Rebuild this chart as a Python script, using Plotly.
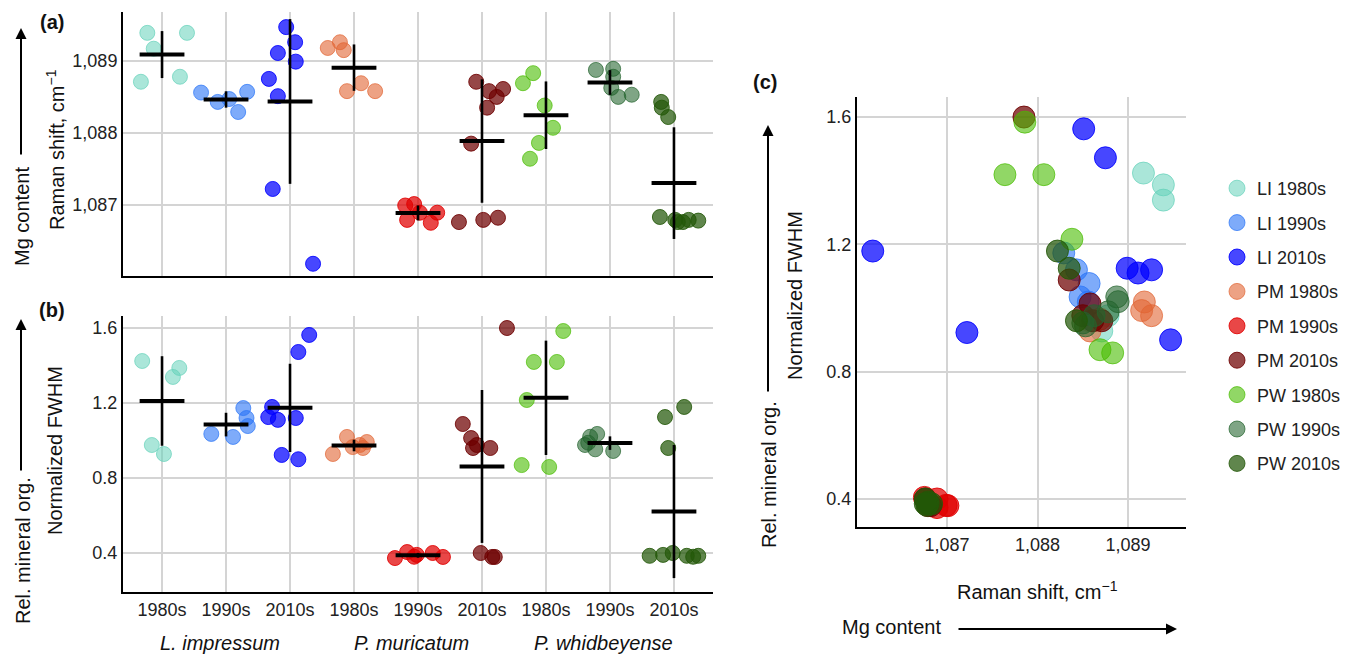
import numpy as np
import plotly.graph_objects as go

W, H = 1359, 656

# ---------------- data ----------------
groups = ["LI 1980s", "LI 1990s", "LI 2010s", "PM 1980s", "PM 1990s", "PM 2010s",
          "PW 1980s", "PW 1990s", "PW 2010s"]
decades = ["1980s", "1990s", "2010s"] * 3
species = ["L. impressum", "P. muricatum", "P. whidbeyense"]

raman_li80 = [1089.39, 1089.17, 1089.39, 1088.78, 1088.71]
fwhm_li80 = [1.387, 1.424, 1.339, 0.976, 0.928]
raman_li90 = [1088.56, 1088.43, 1088.47, 1088.29, 1088.57]
fwhm_li90 = [1.019, 1.12, 1.035, 1.173, 1.077]
raman_li10 = [1089.47, 1089.26, 1089.11, 1088.99, 1088.75, 1088.51, 1087.22, 1086.18]
fwhm_li10 = [0.90, 1.12, 1.11, 1.125, 1.472, 1.563, 0.923, 1.179]
raman_pm80 = [1089.18, 1089.26, 1089.15, 1088.69, 1088.58, 1088.58]
fwhm_pm80 = [1.019, 0.976, 0.992, 0.965, 0.96, 0.928]
raman_pm90 = [1086.99, 1087.01, 1086.79, 1086.89, 1086.75, 1086.89]
fwhm_pm90 = [0.38, 0.379, 0.39, 0.40, 0.405, 0.373]
raman_pm10 = [1088.71, 1088.58, 1088.61, 1088.50, 1088.35, 1087.85, 1086.76, 1086.79, 1086.82]
fwhm_pm10 = [0.96, 1.013, 0.96, 0.976, 1.088, 1.60, 0.40, 0.379, 0.379]
raman_pw80 = [1088.83, 1088.69, 1088.38, 1088.07, 1087.86, 1087.64]
fwhm_pw80 = [0.859, 0.869, 1.216, 1.419, 1.584, 1.419]
raman_pw90 = [1088.875, 1088.89, 1088.78, 1088.625, 1088.50, 1088.53]
fwhm_pw90 = [1.035, 1.02, 0.988, 0.976, 0.953, 0.944]
raman_pw10 = [1088.43, 1088.35, 1088.22, 1086.83, 1086.79, 1086.76, 1086.79, 1086.78, 1086.76]
fwhm_pw10 = [0.96, 1.125, 1.179, 0.385, 0.39, 0.40, 0.385, 0.38, 0.385]

raman = [raman_li80, raman_li90, raman_li10, raman_pm80, raman_pm90, raman_pm10,
         raman_pw80, raman_pw90, raman_pw10]
fwhm = [fwhm_li80, fwhm_li90, fwhm_li10, fwhm_pm80, fwhm_pm90, fwhm_pm10,
        fwhm_pw80, fwhm_pw90, fwhm_pw10]

# horizontal jitter of the dot-strips (category units), panels a and b
jitter_a = [
    [-0.23, -0.13, 0.39, 0.28, -0.33],
    [-0.39, -0.13, 0.05, 0.19, 0.33],
    [-0.06, 0.08, -0.19, 0.09, -0.33, -0.19, -0.27, 0.36],
    [-0.41, -0.22, -0.16, 0.11, -0.11, 0.33],
    [-0.20, -0.06, -0.17, 0.03, 0.20, 0.30],
    [-0.09, 0.11, 0.33, 0.23, 0.08, -0.17, -0.36, 0.02, 0.25],
    [-0.20, -0.36, -0.02, 0.11, -0.11, -0.25],
    [-0.22, 0.05, 0.05, 0.02, 0.13, 0.34],
    [-0.20, -0.19, -0.09, -0.22, 0.02, 0.14, 0.23, 0.38, 0.06],
]
jitter_b = [
    [0.27, -0.31, 0.17, -0.16, 0.03],
    [0.11, 0.32, -0.23, 0.27, 0.34],
    [0.13, 0.09, -0.19, -0.34, 0.13, 0.30, -0.13, -0.28],
    [-0.11, 0.09, 0.20, -0.02, 0.14, -0.33],
    [-0.06, 0.39, -0.02, 0.23, -0.17, -0.36],
    [-0.14, -0.17, 0.13, -0.08, -0.30, 0.39, -0.02, 0.16, 0.20],
    [0.05, -0.38, -0.30, 0.17, 0.27, -0.19],
    [-0.20, -0.31, -0.34, -0.39, -0.23, 0.05],
    [-0.09, -0.14, 0.16, -0.38, -0.17, -0.02, 0.20, 0.30, 0.38],
]

colors = [
    "rgba(100,210,185,0.55)", "rgba(40,115,247,0.6)", "rgba(0,0,255,0.72)",
    "rgba(225,100,50,0.6)", "rgba(225,0,0,0.72)", "rgba(110,0,0,0.72)",
    "rgba(72,188,0,0.6)", "rgba(35,100,45,0.58)", "rgba(35,88,8,0.72)",
]
line_colors = [
    "rgba(100,210,185,0.7)", "rgba(40,115,247,0.7)", "rgba(0,0,255,0.85)",
    "rgba(225,100,50,0.7)", "rgba(225,0,0,0.85)", "rgba(110,0,0,0.85)",
    "rgba(72,188,0,0.7)", "rgba(35,100,45,0.7)", "rgba(35,88,8,0.85)",
]

FONT = "Liberation Sans, Arial, Helvetica, sans-serif"
fig = go.Figure()

# ---------------- panels a and b: dot strips ----------------
for i, g in enumerate(groups):
    xa = [i + j for j in jitter_a[i]]
    xb = [i + j for j in jitter_b[i]]
    fig.add_trace(go.Scatter(x=xa, y=raman[i], mode="markers", xaxis="x", yaxis="y",
                             marker=dict(size=15, color=colors[i],
                                         line=dict(width=1, color=line_colors[i])),
                             showlegend=False, hoverinfo="skip"))
    fig.add_trace(go.Scatter(x=xb, y=fwhm[i], mode="markers", xaxis="x2", yaxis="y2",
                             marker=dict(size=15, color=colors[i],
                                         line=dict(width=1, color=line_colors[i])),
                             showlegend=False, hoverinfo="skip"))

# mean +/- sd crosses
cats = list(range(len(groups)))
for vals, xa, ya in [(raman, "x", "y"), (fwhm, "x2", "y2")]:
    means = [float(np.mean(v)) for v in vals]
    sds = [float(np.std(v, ddof=1)) for v in vals]
    fig.add_trace(go.Scatter(
        x=cats, y=means, mode="markers", xaxis=xa, yaxis=ya,
        marker=dict(symbol="line-ew", size=32, line=dict(width=4, color="black"), color="black"),
        error_y=dict(type="data", array=sds, visible=True, color="black", thickness=2.6, width=0),
        showlegend=False, hoverinfo="skip"))

# ---------------- panel c: scatter ----------------
for i, g in enumerate(groups):
    fig.add_trace(go.Scatter(x=raman[i], y=fwhm[i], mode="markers", xaxis="x3", yaxis="y3",
                             name=g, legendgroup=g,
                             marker=dict(size=22, color=colors[i],
                                         line=dict(width=1, color=line_colors[i])),
                             showlegend=True))

# ---------------- layout ----------------
def px_x(p):
    return p / W


def px_y(p):
    return (H - p) / H


grid = "#d4d4d4"
tickfont = dict(family=FONT, size=18, color="#222")
common_ax = dict(showgrid=True, gridcolor=grid, gridwidth=1.6, zeroline=False,
                 showline=True, linecolor="black", linewidth=2, ticks="",
                 tickfont=tickfont, fixedrange=True)

fig.update_layout(
    width=W, height=H,
    margin=dict(l=0, r=0, t=0, b=0),
    paper_bgcolor="white", plot_bgcolor="white",
    font=dict(family=FONT, size=18, color="#222"),
    xaxis=dict(domain=[px_x(123), px_x(713)], range=[-0.61, 8.61], anchor="y",
               tickvals=cats, showticklabels=False, **common_ax),
    yaxis=dict(domain=[px_y(276), px_y(12)], range=[1086.01, 1089.68], anchor="x",
               tickvals=[1087, 1088, 1089], ticktext=["1,087", "1,088", "1,089"], **common_ax),
    xaxis2=dict(domain=[px_x(123), px_x(713)], range=[-0.61, 8.61], anchor="y2",
                tickvals=cats, ticktext=decades, **common_ax),
    yaxis2=dict(domain=[px_y(592), px_y(316)], range=[0.192, 1.664], anchor="x2",
                tickvals=[0.4, 0.8, 1.2, 1.6], ticktext=["0.4", "0.8", "1.2", "1.6"], **common_ax),
    xaxis3=dict(domain=[px_x(857), px_x(1186)], range=[1086.006, 1089.64], anchor="y3",
                tickvals=[1087, 1088, 1089], ticktext=["1,087", "1,088", "1,089"], **common_ax),
    yaxis3=dict(domain=[px_y(527), px_y(97)], range=[0.312, 1.663], anchor="x3",
                tickvals=[0.4, 0.8, 1.2, 1.6], ticktext=["0.4", "0.8", "1.2", "1.6"], **common_ax),
    legend=dict(x=px_x(1217), y=px_y(170), xanchor="left", yanchor="top",
                font=dict(family=FONT, size=18, color="#222"), tracegroupgap=8,
                bgcolor="rgba(0,0,0,0)", itemsizing="trace"),
    showlegend=True,
)

ann = []


def text(x, y, s, size=20, angle=0, bold=False, italic=False, xref="paper"):
    if bold:
        s = "<b>" + s + "</b>"
    if italic:
        s = "<i>" + s + "</i>"
    ann.append(dict(x=x, y=y, xref=xref, yref="paper", text=s, showarrow=False,
                    textangle=angle, xanchor="center", yanchor="middle",
                    font=dict(family=FONT, size=size, color="#111")))


def arrow(x0, y0, x1, y1):
    ann.append(dict(x=px_x(x1), y=px_y(y1), xref="paper", yref="paper",
                    ax=x0 - x1, ay=y0 - y1, axref="pixel", ayref="pixel",
                    text="", showarrow=True, arrowhead=2, arrowsize=1.1,
                    arrowwidth=2, arrowcolor="black"))


text(px_x(52), px_y(22), "(a)", size=20, bold=True)
text(px_x(52), px_y(310), "(b)", size=20, bold=True)
text(px_x(765), px_y(82), "(c)", size=20, bold=True)

text(px_x(55), px_y(150), "Raman shift, cm<sup>−1</sup>", angle=-90)
text(px_x(22), px_y(217), "Mg content", angle=-90)
arrow(21, 156, 21, 28)

text(px_x(55), px_y(451), "Normalized FWHM", angle=-90)
text(px_x(23), px_y(551), "Rel. mineral org.", angle=-90)
arrow(21, 472, 21, 319)

text(px_x(795), px_y(296), "Normalized FWHM", angle=-90)
text(px_x(769), px_y(475), "Rel. mineral org.", angle=-90)
arrow(768, 393, 768, 125)

text(px_x(1037), px_y(590), "Raman shift, cm<sup>−1</sup>")
text(px_x(892), px_y(627), "Mg content")
arrow(957, 629, 1177, 629)

for k, sp in enumerate(species):
    text(3 * k + 0.9, px_y(643), sp, size=20, italic=True, xref="x2")

fig.update_layout(annotations=ann)
fig.write_html(
    "out.html",
    config={"displayModeBar": False},
    post_script="document.body.style.margin='0px';document.body.style.overflow='hidden';",
)
